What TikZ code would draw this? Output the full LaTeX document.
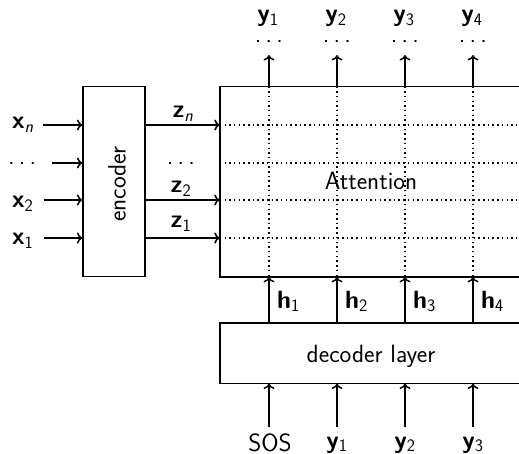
\documentclass[tikz,border=0pt]{standalone}
\usetikzlibrary{arrows.meta,calc}
\newcommand{\sdots}{.\kern.17em.\kern.17em.}
\begin{document}
\begin{tikzpicture}[x=1pt,y=-1pt,
  every node/.style={font=\sffamily\fontsize{25}{30}\selectfont, inner sep=0pt},
  box/.style={draw, line width=1.5pt},
  arr/.style={-{To[length=5.5pt,width=11pt]}, line width=1.5pt},
  gridline/.style={line width=1.5pt, dash pattern=on 1.5pt off 3.2pt, line cap=butt}]
\useasboundingbox (0,0) rectangle (519,454);
\clip (0,0) rectangle (519,454);

% rows and columns
\coordinate (r1) at (0,125);
\coordinate (r2) at (0,163);
\coordinate (r3) at (0,200);
\coordinate (r4) at (0,238);
\coordinate (t1) at (269,55);
\coordinate (t2) at (337,55);
\coordinate (t3) at (405,55);
\coordinate (t4) at (473,55);
\coordinate (b1) at (269,427);
\coordinate (b2) at (337,427);
\coordinate (b3) at (405,427);
\coordinate (b4) at (473,427);

% boxes
\node[box, minimum width=62pt, minimum height=190pt] (enc) at (114.2,181.7) {};
\node[rotate=90, anchor=base] (enclabel) at (125.5,184) {encoder};
\node[minimum width=304pt, minimum height=190pt] (att) at (372,181.7) {};
\node[minimum width=304pt, minimum height=60pt] (dec) at (372,353.3) {};

% dotted grid
\foreach \r in {r1,r2,r3,r4} \draw[gridline] (att.west |- \r) -- (att.east |- \r);
\foreach \t in {t1,t2,t3,t4} \draw[gridline] (att.north -| \t) -- (att.south -| \t);
\draw[box] (att.south west) rectangle (att.north east);
\draw[box] (dec.south west) rectangle (dec.north east);
\node[anchor=base] (attlabel) at (371,190) {Attention};
\node[anchor=base] (declabel) at (371,362) {decoder layer};

% encoder inputs
\node[anchor=base west] (xn) at (12,129) {\textbf{x}\textsubscript{\textit{n}}};
\node[anchor=base west] (xd) at (8,165) {\sdots};
\node[anchor=base west] (x2) at (12,208) {\textbf{x}\textsubscript{2}};
\node[anchor=base west] (x1) at (12,245) {\textbf{x}\textsubscript{1}};
\draw[arr] (xn.east |- r1) ++(9,0) -- (enc.west |- r1);
\draw[arr] (xd.east |- r2) ++(16,0) -- (enc.west |- r2);
\draw[arr] (x2.east |- r3) ++(10,0) -- (enc.west |- r3);
\draw[arr] (x1.east |- r4) ++(10,0) -- (enc.west |- r4);

% encoder outputs
\node[anchor=base] (zn) at (183,118) {\textbf{z}\textsubscript{\textit{n}}};
\node[anchor=base] (zd) at (181,165) {\sdots};
\node[anchor=base] (z2) at (181,193) {\textbf{z}\textsubscript{2}};
\node[anchor=base] (z1) at (181,228) {\textbf{z}\textsubscript{1}};
\draw[arr] (enc.east |- r1) -- (att.west |- r1);
\draw[arr] (enc.east |- r3) -- (att.west |- r3);
\draw[arr] (enc.east |- r4) -- (att.west |- r4);

% outputs on top
\foreach \t/\i in {t1/1,t2/2,t3/3,t4/4} {
  \draw[arr] (att.north -| \t) -- (\t);
  \node[anchor=base] (od\i) at ($(\t)+(0,-12)$) {\sdots};
}
\node[anchor=base] (y1o) at (268,22) {\textbf{y}\textsubscript{1}};
\node[anchor=base] (y2o) at (336,22) {\textbf{y}\textsubscript{2}};
\node[anchor=base] (y3o) at (404,22) {\textbf{y}\textsubscript{3}};
\node[anchor=base] (y4o) at (472,22) {\textbf{y}\textsubscript{4}};

% hidden states
\foreach \t/\i in {t1/1,t2/2,t3/3,t4/4} {
  \draw[arr] (dec.north -| \t) -- (att.south -| \t);
}
\node[anchor=base west] (h1) at (277,308) {\textbf{h}\textsubscript{1}};
\node[anchor=base west] (h2) at (345,308) {\textbf{h}\textsubscript{2}};
\node[anchor=base west] (h3) at (413,308) {\textbf{h}\textsubscript{3}};
\node[anchor=base west] (h4) at (481,308) {\textbf{h}\textsubscript{4}};

% decoder inputs
\foreach \b in {b1,b2,b3,b4} \draw[arr] (\b) -- (\b |- dec.south);
\node[anchor=base] (sos) at (270,451) {SOS};
\node[anchor=base] (y1i) at (337,448) {\textbf{y}\textsubscript{1}};
\node[anchor=base] (y2i) at (405,448) {\textbf{y}\textsubscript{2}};
\node[anchor=base] (y3i) at (473,448) {\textbf{y}\textsubscript{3}};
\end{tikzpicture}
\end{document}
